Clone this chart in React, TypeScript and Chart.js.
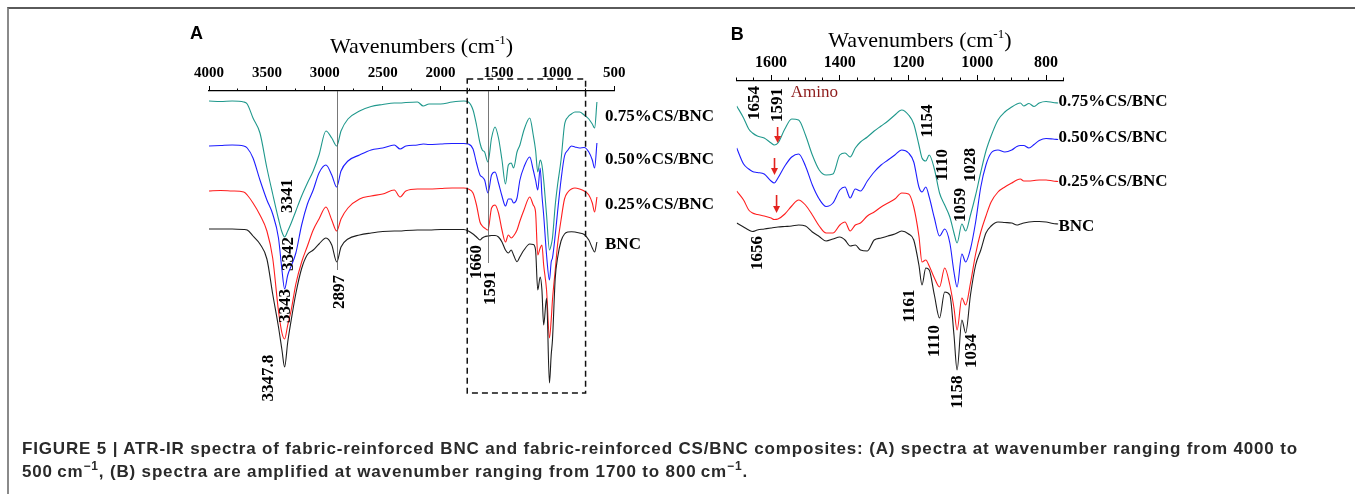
import React, { useEffect, useRef } from "react";
import { Chart, registerables } from "chart.js";
Chart.register(...registerables);

// ---------- Panel A data (wavenumber, cm-1; transmittance in arbitrary offset units) ----------
const wnA = [4000, 3900, 3800, 3700, 3670, 3620, 3560, 3500, 3450, 3400, 3370, 3347, 3320, 3290, 3250, 3200, 3150, 3100, 3050, 2990, 2940, 2897, 2860, 2800, 2700, 2600, 2500, 2400, 2350, 2300, 2200, 2150, 2100, 2000, 1900, 1800, 1760, 1720, 1690, 1660, 1640, 1620, 1591, 1560, 1530, 1500, 1470, 1440, 1415, 1390, 1370, 1340, 1315, 1280, 1230, 1200, 1180, 1161, 1140, 1125, 1110, 1085, 1060, 1045, 1034, 1010, 990, 960, 930, 900, 870, 840, 800, 760, 720, 690, 670, 650];
const bncA = [171, 171, 171, 170.5, 170, 164, 156, 141, 106, 73, 50, 33, 58, 80, 106.5, 131.5, 145.5, 150, 156, 162, 155, 138, 153, 161, 165, 167, 168.5, 169, 169, 169.5, 170, 170, 170, 170.5, 170.5, 170.5, 169, 166, 163, 160, 162, 163.3, 164, 164.5, 164.5, 163, 158, 150, 147, 150, 145, 138.3, 143.3, 150, 156, 155.5, 150, 110, 123, 110, 75, 102, 17, 45, 60, 122, 142, 159, 166, 168, 168.3, 168, 167, 165.5, 160, 152, 148, 158];
const cs025A = [209, 209.5, 209, 208, 205, 197, 185, 169, 142, 89, 67, 61, 75, 90, 116, 138, 154, 170, 181, 193, 180, 169, 181, 192, 201, 204, 206, 210, 203, 209, 211, 211, 211, 211.5, 212, 212, 211, 207, 195, 178, 174, 172, 170, 192, 195, 187, 170, 158, 165, 162, 164, 170, 179, 190, 203, 195, 188, 145, 152, 155, 135, 110, 62, 80, 100, 130, 155, 180, 201, 208, 211, 212, 211, 209, 205, 197, 188, 203];
const cs050A = [254, 254.5, 255, 254, 252, 242, 220, 200, 186, 162, 130, 111, 125, 134, 147, 175, 196, 210, 227, 235, 225, 213, 229, 239, 245, 250, 252, 255, 251, 254, 255, 256, 255.5, 256, 256.5, 256.5, 256, 251, 237, 225, 223, 220, 207, 225, 228, 217, 204, 194, 201, 201, 197, 202, 220, 233, 243, 230, 220, 210, 232, 205, 185, 145, 120, 138, 142, 165, 188, 220, 244, 250, 254, 253, 252, 252.5, 248, 240, 232, 257];
const cs075A = [299, 298.5, 299, 298, 296, 282, 267, 232, 206, 181, 168, 163, 169, 177, 189, 204, 217, 229, 245, 269, 262, 254, 269, 281, 289, 293.5, 295.5, 297, 297, 297.5, 298, 294, 296, 296, 298, 299, 298, 290, 275, 257, 250, 248, 238, 262, 273, 262, 240, 216, 235, 237, 232, 248, 255, 270, 282, 265, 250, 228, 240, 235, 220, 185, 150, 155, 162, 195, 215, 240, 275, 283, 286, 288, 288, 285, 281, 276, 272, 298];
const tickLabelsA = [4000, 3500, 3000, 2500, 2000, 1500, 1000, 500];
const tickMarksA = [4000, 3750, 3500, 3250, 3000, 2750, 2500, 2250, 2000, 1750, 1500, 1250, 1000, 750, 500];

// ---------- Panel B data ----------
const wnB = [1700, 1680, 1665, 1654, 1640, 1620, 1600, 1591, 1580, 1560, 1540, 1520, 1500, 1480, 1460, 1440, 1420, 1400, 1385, 1370, 1355, 1340, 1320, 1300, 1280, 1260, 1240, 1220, 1200, 1185, 1170, 1161, 1150, 1140, 1125, 1110, 1095, 1080, 1068, 1059, 1045, 1034, 1020, 1005, 990, 975, 960, 940, 920, 900, 885, 875, 865, 850, 835, 820, 800, 780, 765];
const bncB = [177, 173, 170, 168.5, 170, 171, 172, 172.5, 173, 173.5, 174, 175, 174, 168, 163.5, 159, 161, 163, 160, 154, 155, 150, 149, 160, 162, 164, 166, 169, 166, 160, 135, 115, 132, 130, 105, 82, 108, 105, 65, 30, 80, 67, 105, 135, 150, 167, 174, 178, 177.5, 177, 175, 176, 177, 178, 178.5, 178.5, 178, 176.5, 176];
const cs025B = [209, 200, 190, 187, 185.5, 184, 182, 180.5, 181, 186, 194, 200, 195, 185, 174, 167, 167, 175, 178, 169, 175, 177, 184, 188, 193, 197, 201, 207, 206, 193, 164, 138, 140, 134, 122, 113, 132, 115, 92, 70, 102, 95, 117, 146, 168, 184, 198, 208, 213, 217, 220, 221, 219, 219, 219.5, 220, 220, 219, 218.5];
const cs050B = [252, 236, 231, 228.5, 227.5, 226, 219, 217, 222, 234, 243, 246, 234, 215, 201, 193.5, 197, 210, 213, 202, 211, 209, 219, 228, 235, 240, 245, 250, 247, 238, 213, 208, 213, 203, 182, 164, 171, 157, 128, 113, 146, 138, 151, 178, 213, 235, 247, 250, 248, 250, 253.5, 254.5, 254.5, 252, 255.5, 259.5, 261.5, 261, 260.5];
const cs075B = [294, 282, 271, 267, 264, 262, 257, 255, 257, 271, 281, 280, 265, 245, 230, 225, 226, 245, 247, 243, 252, 258, 263, 269, 274, 279, 285, 290, 285, 276, 255, 242, 239, 245, 231, 207, 195, 183, 167, 157, 176, 169, 185, 205, 228, 249, 264, 280, 288, 293, 296, 297, 294, 296.5, 293.5, 297, 298.5, 297.5, 297];
const tickLabelsB = [1600, 1400, 1200, 1000, 800];
const tickMarksB = [1700, 1650, 1600, 1550, 1500, 1450, 1400, 1350, 1300, 1250, 1200, 1150, 1100, 1050, 1000, 950, 900, 850, 800, 750];

const seriesNames = ["BNC", "0.25%CS/BNC", "0.50%CS/BNC", "0.75%CS/BNC"];
const seriesColors = ["#1e1e1e", "#ff1e1e", "#1e1eff", "#1f988c"];

// Annotations (text, wavenumber, transmittance units)
const peakLabelsA = [
  { text: "3341", wn: 3318, v: 204 },
  { text: "3342", wn: 3309, v: 146 },
  { text: "3343", wn: 3335, v: 94 },
  { text: "3347.8", wn: 3482, v: 22 },
  { text: "2897", wn: 2869, v: 108 },
  { text: "1660", wn: 1688, v: 138 },
  { text: "1591", wn: 1565, v: 112 },
];
const markerLinesA = [
  { wn: 2897, v: 130 },
  { wn: 1591, v: 137 },
];
const zoomBoxA = { from: 1770, to: 748, top: 321, bottom: 7 };
const seriesLabelVA = [155, 195, 240, 283];

const peakLabelsB = [
  { text: "1654", wn: 1649, v: 297 },
  { text: "1591", wn: 1582, v: 295 },
  { text: "1154", wn: 1145, v: 279 },
  { text: "1110", wn: 1102, v: 235 },
  { text: "1028", wn: 1020, v: 235 },
  { text: "1059", wn: 1049, v: 195 },
  { text: "1656", wn: 1640, v: 147 },
  { text: "1161", wn: 1197, v: 94 },
  { text: "1110", wn: 1124, v: 59 },
  { text: "1034", wn: 1017, v: 49 },
  { text: "1158", wn: 1057, v: 8 },
];
const arrowsB = [
  { wn: 1581, from: 273, to: 257 },
  { wn: 1590, from: 242, to: 225 },
  { wn: 1584, from: 205, to: 187 },
];
const aminoLabel = { text: "Amino", wn: 1474, v: 307 };
const seriesLabelVB = [173, 218, 262, 298];

const SERIF = "'Liberation Serif', 'Times New Roman', serif";
const SANS = "'Liberation Sans', Arial, Helvetica, sans-serif";

type Peak = { text: string; wn: number; v: number };
type PanelDef = {
  letter: string;
  wn: number[];
  series: number[][];
  min: number;
  max: number;
  yMax: number;
  tickLabels: number[];
  tickMarks: number[];
  tickFont: number;
  tickLength: number;
  minorLength: number;
  tickPad: number;
  padding: { left: number; right: number; top: number; bottom: number };
  titleWn: number;
  titleRise: number;
  letterDx: number;
  letterRise: number;
  peaks: Peak[];
  seriesLabelWn: number;
  seriesLabelV: number[];
  markers?: { wn: number; v: number }[];
  box?: { from: number; to: number; top: number; bottom: number };
  arrows?: { wn: number; from: number; to: number }[];
  amino?: Peak;
};

const panelA: PanelDef = {
  letter: "A",
  wn: wnA,
  series: [bncA, cs025A, cs050A, cs075A],
  min: 500,
  max: 4000,
  yMax: 309,
  tickLabels: tickLabelsA,
  tickMarks: tickMarksA,
  tickFont: 15,
  tickLength: 5,
  minorLength: 2.5,
  tickPad: 4,
  padding: { left: 209, right: 740.7, top: 60, bottom: 94 },
  titleWn: 2165,
  titleRise: 38,
  letterDx: -19,
  letterRise: 52,
  peaks: peakLabelsA,
  seriesLabelWn: 580,
  seriesLabelV: seriesLabelVA,
  markers: markerLinesA,
  box: zoomBoxA,
};

const panelB: PanelDef = {
  letter: "B",
  wn: wnB,
  series: [bncB, cs025B, cs050B, cs075B],
  min: 750,
  max: 1700,
  yMax: 319,
  tickLabels: tickLabelsB,
  tickMarks: tickMarksB,
  tickFont: 16,
  tickLength: 6,
  minorLength: 3.5,
  tickPad: 3,
  padding: { left: 736.7, right: 291.7, top: 49.8, bottom: 94 },
  titleWn: 1167,
  titleRise: 34,
  letterDx: -6,
  letterRise: 41,
  peaks: peakLabelsB,
  seriesLabelWn: 764,
  seriesLabelV: seriesLabelVB,
  arrows: arrowsB,
  amino: aminoLabel,
};

function rotatedText(ctx: CanvasRenderingContext2D, text: string, x: number, y: number) {
  ctx.save();
  ctx.translate(x, y);
  ctx.rotate(-Math.PI / 2);
  ctx.textAlign = "center";
  ctx.textBaseline = "middle";
  ctx.fillText(text, 0, 0);
  ctx.restore();
}

function makePlugin(p: PanelDef) {
  return {
    id: "annot" + p.letter,
    afterDatasetsDraw(chart: any) {
      const ctx: CanvasRenderingContext2D = chart.ctx;
      const xs = chart.scales.x;
      const ys = chart.scales.y;
      const area = chart.chartArea;
      ctx.save();

      // marker lines
      if (p.markers) {
        ctx.strokeStyle = "#555";
        ctx.lineWidth = 0.8;
        p.markers.forEach((m) => {
          const x = Math.round(xs.getPixelForValue(m.wn)) + 0.5;
          ctx.beginPath();
          ctx.moveTo(x, area.top);
          ctx.lineTo(x, ys.getPixelForValue(m.v));
          ctx.stroke();
        });
      }

      // dashed zoom box
      if (p.box) {
        const x1 = xs.getPixelForValue(p.box.from);
        const x2 = xs.getPixelForValue(p.box.to);
        const y1 = ys.getPixelForValue(p.box.top);
        const y2 = ys.getPixelForValue(p.box.bottom);
        ctx.strokeStyle = "#111";
        ctx.lineWidth = 1.5;
        ctx.setLineDash([6, 4]);
        ctx.strokeRect(x1, y1, x2 - x1, y2 - y1);
        ctx.setLineDash([]);
      }

      // arrows
      if (p.arrows) {
        ctx.strokeStyle = "#e3231f";
        ctx.fillStyle = "#e3231f";
        ctx.lineWidth = 1.6;
        p.arrows.forEach((a) => {
          const x = xs.getPixelForValue(a.wn);
          const yA = ys.getPixelForValue(a.from);
          const yB = ys.getPixelForValue(a.to);
          ctx.beginPath();
          ctx.moveTo(x, yA);
          ctx.lineTo(x, yB - 5);
          ctx.stroke();
          ctx.beginPath();
          ctx.moveTo(x - 3.5, yB - 7);
          ctx.lineTo(x + 3.5, yB - 7);
          ctx.lineTo(x, yB);
          ctx.closePath();
          ctx.fill();
        });
      }

      // rotated peak labels
      ctx.fillStyle = "#000";
      ctx.font = `bold 17px ${SERIF}`;
      p.peaks.forEach((pk) => {
        rotatedText(ctx, pk.text, xs.getPixelForValue(pk.wn), ys.getPixelForValue(pk.v));
      });

      // amino label
      if (p.amino) {
        ctx.fillStyle = "#8e1b1b";
        ctx.font = `17px ${SERIF}`;
        ctx.textAlign = "center";
        ctx.textBaseline = "middle";
        ctx.fillText(p.amino.text, xs.getPixelForValue(p.amino.wn), ys.getPixelForValue(p.amino.v));
      }

      // series labels
      ctx.fillStyle = "#000";
      ctx.font = `bold 17px ${SERIF}`;
      ctx.textAlign = "left";
      ctx.textBaseline = "middle";
      seriesNames.forEach((name, i) => {
        ctx.fillText(name, xs.getPixelForValue(p.seriesLabelWn), ys.getPixelForValue(p.seriesLabelV[i]));
      });

      // axis title with superscript
      const t1 = "Wavenumbers (cm";
      const sup = "-1";
      const t3 = ")";
      ctx.font = `22px ${SERIF}`;
      const w1 = ctx.measureText(t1).width;
      const w3 = ctx.measureText(t3).width;
      ctx.font = `13px ${SERIF}`;
      const w2 = ctx.measureText(sup).width;
      const total = w1 + w2 + w3;
      const cx = xs.getPixelForValue(p.titleWn);
      const by = area.top - p.titleRise;
      const x0 = cx - total / 2;
      ctx.textAlign = "left";
      ctx.textBaseline = "alphabetic";
      ctx.font = `22px ${SERIF}`;
      ctx.fillText(t1, x0, by);
      ctx.font = `13px ${SERIF}`;
      ctx.fillText(sup, x0 + w1, by - 9);
      ctx.font = `22px ${SERIF}`;
      ctx.fillText(t3, x0 + w1 + w2, by);

      // panel letter
      ctx.font = `bold 18px ${SANS}`;
      ctx.fillText(p.letter, area.left + p.letterDx, area.top - p.letterRise);

      ctx.restore();
    },
  };
}

function buildChart(canvas: HTMLCanvasElement, p: PanelDef) {
  return new Chart(canvas, {
    type: "line",
    data: {
      datasets: p.series.map((s, i) => ({
        label: seriesNames[i],
        data: p.wn.map((w, j) => ({ x: w, y: s[j] })),
        borderColor: seriesColors[i],
        borderWidth: 1.1,
        pointRadius: 0,
        fill: false,
        cubicInterpolationMode: "monotone",
      })),
    },
    options: {
      responsive: false,
      animation: false,
      devicePixelRatio: 1,
      events: [],
      layout: { padding: p.padding },
      plugins: {
        legend: { display: false },
        title: { display: false },
        tooltip: { enabled: false },
      },
      scales: {
        x: {
          type: "linear",
          position: "top",
          reverse: true,
          min: p.min,
          max: p.max,
          afterBuildTicks: (scale: any) => {
            scale.ticks = p.tickMarks.map((v) => ({ value: v }));
          },
          ticks: {
            autoSkip: false,
            maxRotation: 0,
            minRotation: 0,
            padding: p.tickPad,
            color: "#000",
            font: { family: SERIF, size: p.tickFont, weight: "bold" },
            callback: (v: any) => (p.tickLabels.includes(Number(v)) ? String(v) : ""),
          },
          grid: {
            drawOnChartArea: false,
            drawTicks: true,
            tickLength: p.tickLength,
            tickColor: "#000",
            tickWidth: 1,
            tickBorderDash: (c: any) =>
              c.tick && p.tickLabels.includes(c.tick.value)
                ? []
                : [0, p.tickLength - p.minorLength, p.minorLength, 100],
          },
          border: { display: true, color: "#000", width: 1.2 },
        },
        y: {
          type: "linear",
          display: false,
          min: 0,
          max: p.yMax,
        },
      },
    } as any,
    plugins: [makePlugin(p)],
  });
}

function PanelCanvas({ panel }: { panel: PanelDef }) {
  const ref = useRef<HTMLCanvasElement | null>(null);
  useEffect(() => {
    if (!ref.current) return;
    const chart = buildChart(ref.current, panel);
    return () => chart.destroy();
  }, [panel]);
  return (
    <canvas
      ref={ref}
      width={1355}
      height={494}
      style={{ position: "absolute", left: 0, top: 0, width: 1355, height: 494 }}
    />
  );
}

const supStyle = { fontSize: 12, lineHeight: 0 } as const;

export default function App() {
  return (
    <div
      style={{
        position: "absolute",
        left: 0,
        top: 0,
        width: 1355,
        height: 494,
        overflow: "hidden",
        background: "#fff",
      }}
    >
      <div
        style={{
          position: "absolute",
          left: 7,
          top: 7,
          width: 1360,
          height: 500,
          borderTop: "2px solid #5a5a5a",
          borderLeft: "2px solid #8a8a8a",
        }}
      />
      <PanelCanvas panel={panelA} />
      <PanelCanvas panel={panelB} />
      <div
        style={{
          position: "absolute",
          left: 22,
          top: 437,
          width: 1330,
          font: `bold 17px ${SANS}`,
          letterSpacing: "0.84px",
          lineHeight: "23px",
          color: "#2a2a2a",
          whiteSpace: "nowrap",
        }}
      >
        FIGURE 5 | ATR-IR spectra of fabric-reinforced BNC and fabric-reinforced CS/BNC composites: (A) spectra at
        wavenumber ranging from 4000 to
        <br />
        500{"\u2009"}cm
        <sup style={supStyle}>−1</sup>, (B) spectra are amplified at wavenumber ranging from 1700 to 800{"\u2009"}cm
        <sup style={supStyle}>−1</sup>.
      </div>
    </div>
  );
}
